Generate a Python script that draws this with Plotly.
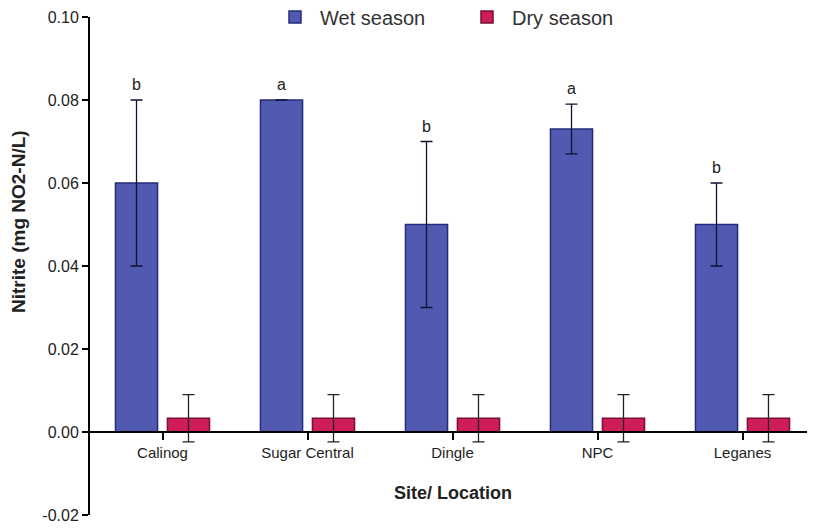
import plotly.graph_objects as go

sites = ["Calinog", "Sugar Central", "Dingle", "NPC", "Leganes"]
wet = [0.060, 0.080, 0.050, 0.073, 0.050]
wet_err = [0.020, None, 0.020, 0.006, 0.010]
dry = [0.0033, 0.0033, 0.0033, 0.0033, 0.0033]
dry_err = [0.0057, 0.0057, 0.0057, 0.0057, 0.0057]
letters = ["b", "a", "b", "a", "b"]
y_ticks = [-0.02, 0.00, 0.02, 0.04, 0.06, 0.08, 0.10]
y_tick_text = ["-0.02", "0.00", "0.02", "0.04", "0.06", "0.08", "0.10"]

FONT = "Liberation Sans, Arial, sans-serif"

fig = go.Figure()
fig.add_trace(go.Bar(
    name="Wet season", x=sites, y=wet,
    marker=dict(color="#5259b1", line=dict(color="#262c7a", width=1.5)),
    error_y=dict(type="data", array=wet_err, visible=True, color="#111133", thickness=1.3, width=6),
))
fig.add_trace(go.Bar(
    name="Dry season", x=sites, y=dry,
    marker=dict(color="#cf1c5b", line=dict(color="#7a0f33", width=1.5)),
    error_y=dict(type="data", array=dry_err, visible=True, color="#222222", thickness=1.3, width=6),
))

for s, v, e, l in zip(sites, wet, wet_err, letters):
    fig.add_annotation(x=s, y=v + (e or 0), text=l, showarrow=False, xref="x", yref="y",
                       yanchor="bottom", yshift=5, xshift=-26,
                       font=dict(family=FONT, size=16, color="#222"))

fig.add_annotation(text="<b>Nitrite (mg NO2-N/L)</b>", textangle=-90, showarrow=False,
                   xref="paper", yref="paper", x=(18 - 90) / 725, y=(515 - 222) / 498,
                   xanchor="center", yanchor="middle",
                   font=dict(family=FONT, size=19, color="#222"))
fig.add_annotation(text="<b>Site/ Location</b>", showarrow=False,
                   xref="paper", yref="paper", x=0.5, y=(515 - 493) / 498,
                   xanchor="center", yanchor="middle",
                   font=dict(family=FONT, size=18, color="#222"))

fig.update_layout(
    width=807, height=521,
    margin=dict(l=82, r=0, t=9, b=14, autoexpand=False),
    plot_bgcolor="white", paper_bgcolor="white",
    barmode="group", bargap=0.283, bargroupgap=0.19,
    font=dict(family=FONT, size=15, color="#222"),
    legend=dict(orientation="h", x=(270 - 90) / 725, xanchor="left", y=1.0, yanchor="middle",
                font=dict(family=FONT, size=20, color="#333"), bgcolor="rgba(0,0,0,0)",
                traceorder="normal", itemwidth=40, entrywidth=137),
    xaxis=dict(anchor="free", position=1 / 6, range=[-0.5, 4.5], showline=True, linecolor="black",
               linewidth=2, ticks="outside", ticklen=7, tickwidth=2, tickcolor="black",
               showgrid=False, tickfont=dict(family=FONT, size=15, color="#222")),
    yaxis=dict(range=[-0.02, 0.10], tickvals=y_ticks, ticktext=y_tick_text, showline=True,
               linecolor="black", linewidth=2, ticks="outside", ticklen=6, tickwidth=2,
               tickcolor="black", showgrid=False, zeroline=False,
               tickfont=dict(family=FONT, size=16, color="#222")),
)

fig.write_html("out.html")
